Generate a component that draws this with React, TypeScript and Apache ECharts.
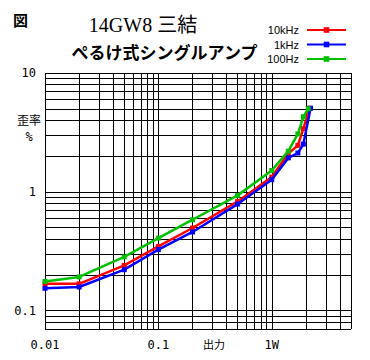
import React, { useEffect, useRef } from "react";
import * as echarts from "echarts";

const seriesNames = ["10kHz", "1kHz", "100Hz"];
const seriesColors = ["#ff0000", "#0000ff", "#00c000"];

const xRed = [0.01, 0.02, 0.05, 0.1, 0.2, 0.5, 1, 1.4, 1.7, 1.9, 2.15];
const yRed = [0.168, 0.168, 0.24, 0.347, 0.496, 0.83, 1.33, 2.1, 2.46, 3.4, 5.05];

const xBlue = [0.01, 0.02, 0.05, 0.1, 0.2, 0.5, 1, 1.4, 1.7, 1.9, 2.2];
const yBlue = [0.154, 0.158, 0.221, 0.326, 0.459, 0.788, 1.265, 1.93, 2.12, 2.52, 5.05];

const xGreen = [0.01, 0.02, 0.05, 0.1, 0.2, 0.5, 1, 1.4, 1.7, 1.9, 2.1];
const yGreen = [0.176, 0.192, 0.283, 0.408, 0.582, 0.933, 1.51, 2.2, 3.07, 4.28, 5.0];

const xGridValues = [
  0.01, 0.02, 0.03, 0.04, 0.05, 0.06, 0.07, 0.08, 0.09,
  0.1, 0.2, 0.3, 0.4, 0.5, 0.6, 0.7, 0.8, 0.9,
  1, 2, 3, 4, 5,
];
const yGridValues = [
  0.07, 0.08, 0.09,
  0.1, 0.2, 0.3, 0.4, 0.5, 0.6, 0.7, 0.8, 0.9,
  1, 2, 3, 4, 5, 6, 7, 8, 9, 10,
];

const xTickValues = [0.01, 0.1, 1];
const xTickLabels = ["0.01", "0.1", "1W"];
const yTickValues = [0.1, 1, 10];
const yTickLabels = ["0.1", "1", "10"];

const xMin = 0.01;
const xMax = 5;
const yMin = 0.07;
const yMax = 10;

function labelFor(v: number, values: number[], labels: string[]) {
  for (let i = 0; i < values.length; i++) {
    if (Math.abs(Math.log10(v) - Math.log10(values[i])) < 1e-6) return labels[i];
  }
  return "";
}

const zip = (xs: number[], ys: number[]) => xs.map((x, i) => [x, ys[i]]);

export default function App() {
  const ref = useRef<HTMLDivElement>(null);
  useEffect(() => {
    if (!ref.current) return;
    const chart = echarts.init(ref.current, null, { renderer: "svg" });
    const mono = "'DejaVu Sans Mono', monospace";
    const dataSets = [zip(xRed, yRed), zip(xBlue, yBlue), zip(xGreen, yGreen)];
    const lineSeries = seriesNames.map((name, i) => ({
      name,
      type: "line",
      data: dataSets[i],
      symbol: "rect",
      symbolSize: 5,
      showAllSymbol: true,
      lineStyle: { color: seriesColors[i], width: 2.5 },
      itemStyle: { color: seriesColors[i] },
      z: 5 + i,
      silent: true,
    }));
    chart.setOption({
      animation: false,
      backgroundColor: "#ffffff",
      grid: { left: 45, right: 19, top: 73, bottom: 31 },
      legend: {
        orient: "vertical",
        right: 18,
        top: 19,
        align: "right",
        itemWidth: 39,
        itemHeight: 7,
        itemGap: 2.5,
        selectedMode: false,
        data: seriesNames,
        textStyle: {
          fontFamily: "'Liberation Sans', Arial, sans-serif",
          fontSize: 11,
          color: "#000",
          lineHeight: 12,
          padding: [0, 3, 0, 0],
        },
      },
      xAxis: {
        type: "log",
        logBase: 10,
        min: xMin,
        max: xMax,
        axisLine: { show: false },
        axisTick: { show: false },
        splitLine: { show: false },
        axisLabel: {
          margin: 10,
          fontFamily: mono,
          fontSize: 12,
          color: "#000",
          showMaxLabel: false,
          formatter: (v: number) => labelFor(v, xTickValues, xTickLabels),
        },
      },
      yAxis: {
        type: "log",
        logBase: 10,
        min: yMin,
        max: yMax,
        axisLine: { show: false },
        axisTick: { show: false },
        splitLine: { show: false },
        axisLabel: {
          margin: 9,
          fontFamily: mono,
          fontSize: 12,
          color: "#000",
          padding: [0, 0, 5, 0],
          formatter: (v: number) => labelFor(v, yTickValues, yTickLabels),
        },
      },
      graphic: [
        {
          type: "text",
          left: 13,
          top: 12,
          style: {
            text: "図",
            fontSize: 15,
            fontWeight: "bold",
            fontFamily: "'Noto Sans CJK JP', sans-serif",
            fill: "#000",
          },
        },
        {
          type: "text",
          x: 143,
          y: 25,
          style: {
            text: "14GW8 三結",
            fontSize: 20,
            fontFamily: "'Liberation Serif', 'Noto Sans CJK JP', serif",
            fill: "#000",
            align: "center",
            verticalAlign: "middle",
          },
        },
        {
          type: "text",
          x: 164.5,
          y: 51,
          style: {
            text: "ぺるけ式シングルアンプ",
            fontSize: 17,
            fontWeight: "bold",
            fontFamily: "'Noto Sans CJK JP', sans-serif",
            fill: "#000",
            align: "center",
            verticalAlign: "middle",
          },
        },
        {
          type: "text",
          x: 29,
          y: 119,
          style: {
            text: "歪率",
            fontSize: 12,
            fontFamily: "'Noto Sans CJK JP', sans-serif",
            fill: "#000",
            align: "center",
            verticalAlign: "middle",
          },
        },
        {
          type: "text",
          x: 29,
          y: 137,
          style: {
            text: "%",
            fontSize: 12,
            fontFamily: mono,
            fill: "#000",
            align: "center",
            verticalAlign: "middle",
          },
        },
        {
          type: "text",
          x: 214,
          y: 344,
          style: {
            text: "出力",
            fontSize: 11,
            fontFamily: "'Noto Sans CJK JP', sans-serif",
            fill: "#000",
            align: "center",
            verticalAlign: "middle",
          },
        },
      ],
      series: [
        {
          name: "grid",
          type: "line",
          data: [[xMin, yMin]],
          showSymbol: false,
          symbol: "none",
          lineStyle: { opacity: 0 },
          silent: true,
          z: 1,
          markLine: {
            silent: true,
            symbol: ["none", "none"],
            label: { show: false },
            lineStyle: { color: "#000", width: 1, type: "solid" },
            emphasis: { disabled: true },
            animation: false,
            data: [
              ...xGridValues.map((v) => ({ xAxis: v })),
              ...yGridValues.map((v) => ({ yAxis: v })),
            ],
          },
        },
        ...lineSeries,
      ],
    });
    return () => chart.dispose();
  }, []);
  return (
    <div
      ref={ref}
      style={{ position: "fixed", left: 0, top: 0, width: 370, height: 360 }}
    />
  );
}
